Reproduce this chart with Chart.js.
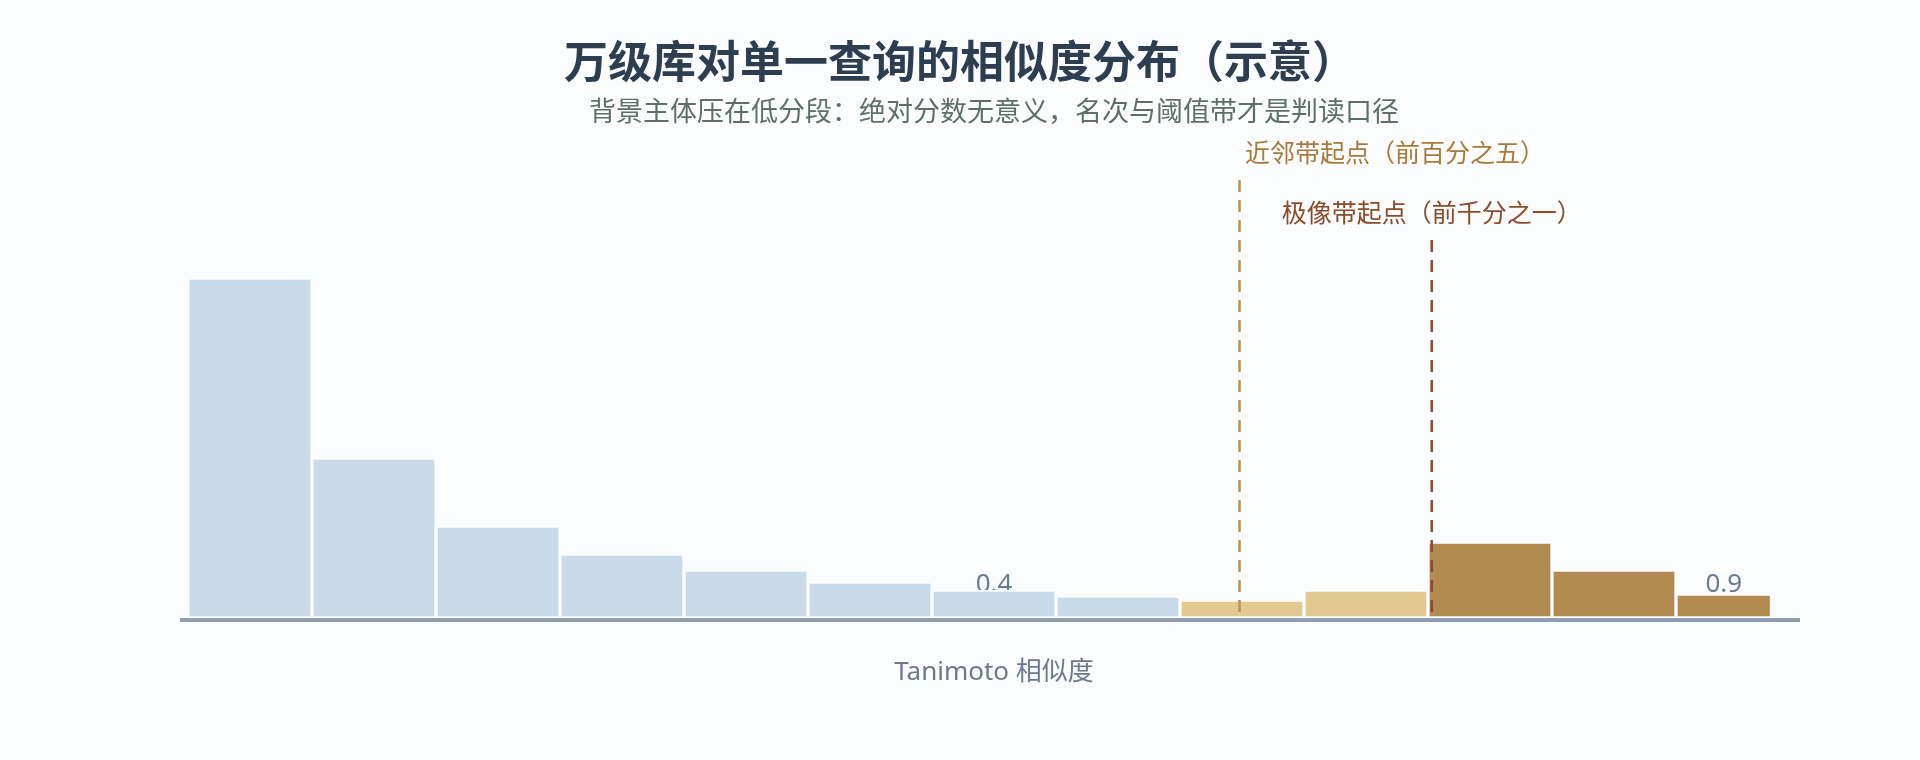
<!DOCTYPE html>
<html lang="zh-CN">
<head>
<meta charset="utf-8">
<title>万级库对单一查询的相似度分布（示意）</title>
<script src="https://cdn.jsdelivr.net/npm/chart.js@4.4.1/dist/chart.umd.min.js"></script>
<style>
  html, body { margin: 0; padding: 0; background: #fafcfe; }
  #wrap { width: 1920px; height: 760px; position: relative; }
</style>
</head>
<body>
<div id="wrap"><canvas id="grafico"></canvas></div>
<script>
// Dados (contagem por faixa, biblioteca ~10k)
const binEdges = [0, 1, 2, 3, 4, 5, 6, 7, 8, 9, 10, 11, 12, 12.77];
const binCounts = [3400, 1600, 920, 640, 480, 360, 280, 220, 180, 280, 760, 480, 240];
const binBand = [0, 0, 0, 0, 0, 0, 0, 0, 1, 1, 2, 2, 2];
const tickBins = [6, 12];
const tickLabels = ['0.4', '0.9'];

// Limiares (posição na faixa, topo da linha em contagem)
const thresholdNames = ['近邻带起点（前百分之五）', '极像带起点（前千分之一）'];
const thresholdPos = [8.48, 10.03];
const thresholdTop = [4380, 3780];

const BG = '#fafcfe';
const bandColors = ['#c8d9ea', '#e2c98f', '#b08a4f'];
const lineColors = ['#b89257', '#8b4a2c'];
const labelColors = ['#a9793a', '#8a4b28'];
const labelAlign = ['left', 'center'];
const labelShift = [5.5, 0];
const AXIS = '#8c9cb1';
const LATIN = "'Noto Sans', 'Noto Sans CJK SC', sans-serif";
const CJK = "'Noto Sans CJK SC', 'Noto Sans', sans-serif";

const yMin = -20;
const yMax = 4880;
const xMax = binCounts.length;
const lastBin = binCounts.length - 1;

const pontos = binCounts.map((v, i) => ({ x: binEdges[i] + 0.5, y: v }));

// Linhas tracejadas + rótulos dos limiares
const limiaresPlugin = {
  id: 'limiares',
  afterDatasetsDraw(chart) {
    const { ctx, scales } = chart;
    const base = scales.y.getPixelForValue(0);
    thresholdPos.forEach((pos, i) => {
      const x = scales.x.getPixelForValue(pos);
      const top = scales.y.getPixelForValue(thresholdTop[i]);
      ctx.save();
      ctx.strokeStyle = lineColors[i];
      ctx.lineWidth = 2.5;
      ctx.setLineDash([12, 8]);
      ctx.beginPath();
      ctx.moveTo(x, top);
      ctx.lineTo(x, base);
      ctx.stroke();
      ctx.setLineDash([]);
      ctx.fillStyle = labelColors[i];
      ctx.font = '25px ' + CJK;
      ctx.textAlign = labelAlign[i];
      ctx.textBaseline = 'middle';
      ctx.fillText(thresholdNames[i], x + labelShift[i], top - 28);
      ctx.restore();
    });
  }
};

new Chart(document.getElementById('grafico'), {
  type: 'bar',
  data: {
    datasets: [{
      data: pontos,
      backgroundColor: binBand.map(b => bandColors[b]),
      borderColor: BG,
      borderWidth: ctx => {
        if (ctx.dataIndex !== lastBin) return 2;
        const sx = ctx.chart.scales.x;
        const cut = sx.getPixelForValue(binEdges[lastBin] + 1) - sx.getPixelForValue(binEdges[lastBin + 1]);
        return { top: 2, left: 2, bottom: 2, right: cut + 2 };
      },
      borderSkipped: false,
      barPercentage: 1,
      categoryPercentage: 1
    }]
  },
  options: {
    responsive: true,
    maintainAspectRatio: false,
    animation: false,
    layout: { padding: { left: 120, right: 120, top: 0, bottom: 67.7 } },
    plugins: {
      legend: { display: false },
      tooltip: { enabled: false },
      title: {
        display: true,
        text: '万级库对单一查询的相似度分布（示意）',
        color: '#2c3e50',
        font: { family: CJK, size: 44, weight: 'bold' },
        padding: { top: 35, bottom: 4 }
      },
      subtitle: {
        display: true,
        fullSize: false,
        text: '背景主体压在低分段：绝对分数无意义，名次与阈值带才是判读口径',
        color: '#5d7068',
        font: { family: CJK, size: 27 },
        padding: { top: 3, bottom: 2.8 }
      }
    },
    scales: {
      x: {
        type: 'linear',
        min: 0,
        max: xMax,
        offset: false,
        grid: { display: false, drawTicks: false },
        border: { display: false },
        afterBuildTicks: s => {
          s.ticks = tickBins.map(i => ({ value: (binEdges[i] + binEdges[i + 1]) / 2 }));
        },
        ticks: {
          autoSkip: false,
          maxRotation: 0,
          mirror: true,
          padding: 19.6,
          color: '#6a7b92',
          font: { family: LATIN, size: 26 },
          callback: (v, i) => tickLabels[i]
        },
        title: {
          display: true,
          text: 'Tanimoto 相似度',
          color: '#6b7a8d',
          font: { family: LATIN, size: 26 },
          padding: { top: -2.1, bottom: 4 }
        }
      },
      y: {
        min: yMin,
        max: yMax,
        afterBuildTicks: s => { s.ticks = [{ value: yMin }]; },
        afterFit: s => { s.width = 68; },
        ticks: { display: false },
        grid: { color: AXIS, lineWidth: 4, tickLength: 8, drawTicks: true },
        border: { display: false }
      }
    }
  },
  plugins: [limiaresPlugin]
});
</script>
</body>
</html>
